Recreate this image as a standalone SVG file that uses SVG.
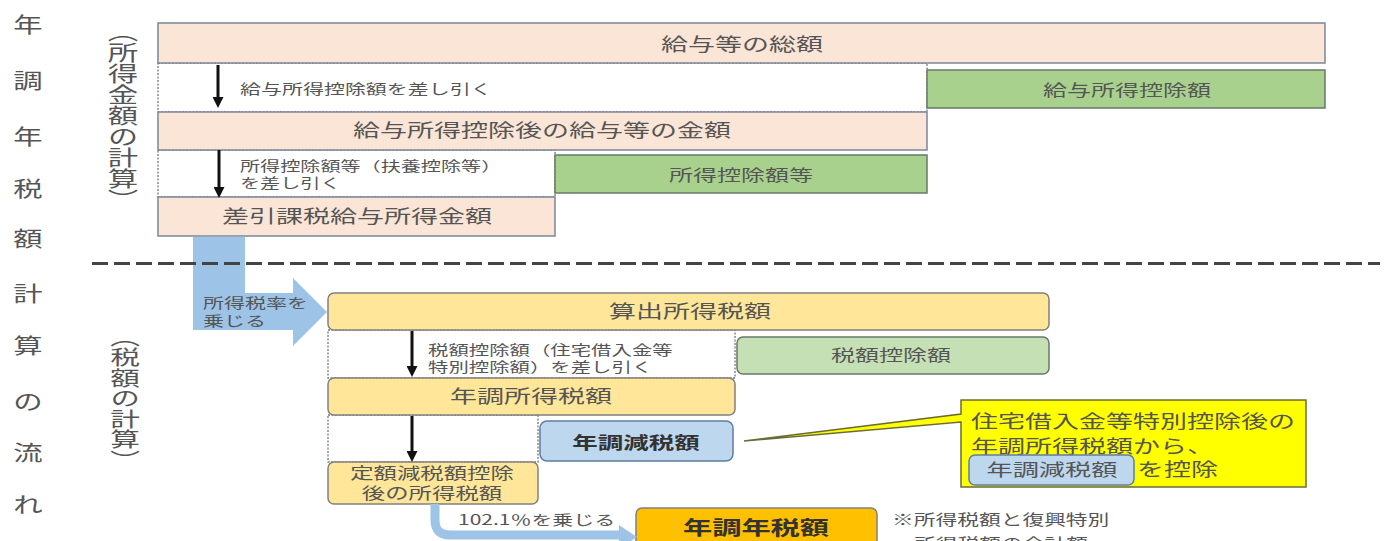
<svg xmlns="http://www.w3.org/2000/svg" width="1386" height="541" viewBox="0 0 1386 541">
<style>
text{font-family:"Noto Sans CJK JP","Noto Sans CJK SC",sans-serif;fill:#555;}
.t{font-size:18px;text-anchor:middle;}
.s{font-size:14px;}
.g{font-size:16px;text-anchor:middle;}
.b{font-weight:bold;fill:#333;}
.peach{fill:#fbe5d6;stroke:#7a8699;stroke-width:1.5;}
.green1{fill:#a9d18e;stroke:#66786a;stroke-width:1.5;}
.green2{fill:#c5e0b4;stroke:#66786a;stroke-width:1.5;}
.gold{fill:#ffe699;stroke:#808080;stroke-width:1.5;}
.blue{fill:#bdd7ee;stroke:#5f7ea3;stroke-width:1.5;}
.orange{fill:#ffc000;stroke:#808080;stroke-width:1.5;}
.band{fill:#fff;stroke:#777;stroke-width:1.3;stroke-dasharray:2 1.5;}
.arr{stroke:#111;stroke-width:3;fill:none;marker-end:url(#ah);}
.vt{font-size:21px;writing-mode:vertical-rl;text-orientation:mixed;}
.lc{font-size:21px;text-anchor:middle;}
</style>
<defs>
<marker id="ah" viewBox="0 0 12 11" refX="0" refY="5.5" markerWidth="12" markerHeight="11" markerUnits="userSpaceOnUse" orient="auto">
<path d="M0,0 L11,5.5 L0,11 z" fill="#111"/>
</marker>
</defs>

<g id="left-title">
<text class="lc" transform="translate(28 31.5) scale(1.4 1)">年</text>
<text class="lc" transform="translate(28 87.5) scale(1.4 1)">調</text>
<text class="lc" transform="translate(28 143.5) scale(1.4 1)">年</text>
<text class="lc" transform="translate(28 195.5) scale(1.4 1)">税</text>
<text class="lc" transform="translate(28 245.5) scale(1.4 1)">額</text>
<text class="lc" transform="translate(28 300.5) scale(1.4 1)">計</text>
<text class="lc" transform="translate(28 352.5) scale(1.4 1)">算</text>
<text class="lc" transform="translate(28 408.5) scale(1.4 1)">の</text>
<text class="lc" transform="translate(28 459.5) scale(1.4 1)">流</text>
<text class="lc" transform="translate(28 511.5) scale(1.4 1)">れ</text>
</g>

<g id="label-income">
<text class="vt" transform="translate(123 21) scale(1.45 1)" x="0" y="0">（所得金額の計算）</text>
</g>
<g id="label-tax">
<text class="vt" style="font-size:20.5px" transform="translate(125 326.5) scale(1.45 1)" x="0" y="0">（税額の計算）</text>
</g>

<g id="bands">
<rect class="band" x="158" y="63" width="769" height="49"/>
<rect class="band" x="158" y="150" width="397" height="47"/>
<rect class="band" x="328" y="330" width="407" height="48"/>
<rect class="band" x="328" y="415" width="210" height="47"/>
</g>

<g id="n-total">
<rect class="peach" x="158" y="23" width="1167" height="40"/>
<text class="t" transform="translate(742 51) scale(1.5 1)">給与等の総額</text>
</g>
<g id="n-kyuyo-kojo">
<rect class="green1" x="927" y="70" width="398" height="38"/>
<text class="g" transform="translate(1127 95.5) scale(1.5 1)">給与所得控除額</text>
</g>
<g id="n-after-kojo">
<rect class="peach" x="158" y="112" width="769" height="38"/>
<text class="t" transform="translate(542 137) scale(1.5 1)">給与所得控除後の給与等の金額</text>
</g>
<g id="n-shotoku-kojo">
<rect class="green1" x="555" y="155" width="372" height="38"/>
<text class="g" transform="translate(741 180.5) scale(1.5 1)">所得控除額等</text>
</g>
<g id="n-sashihiki">
<rect class="peach" x="158" y="197" width="397" height="39"/>
<text class="t" transform="translate(357 223) scale(1.5 1)">差引課税給与所得金額</text>
</g>

<g id="n-sanshutsu">
<rect class="gold" x="328" y="293" width="721" height="37" rx="6"/>
<text class="t" transform="translate(690 318) scale(1.5 1)">算出所得税額</text>
</g>
<g id="n-zeigaku-kojo">
<rect class="green2" x="737" y="337" width="312" height="37" rx="6"/>
<text class="g" transform="translate(891 361) scale(1.5 1)">税額控除額</text>
</g>
<g id="n-nencho-shotoku">
<rect class="gold" x="328" y="378" width="407" height="37" rx="6"/>
<text class="t" transform="translate(531 403) scale(1.5 1)">年調所得税額</text>
</g>
<g id="n-genzei">
<rect class="blue" x="540" y="421" width="193" height="40" rx="7"/>
<text class="t b" style="font-size:17px" transform="translate(636 449) scale(1.5 1)">年調減税額</text>
</g>
<g id="n-teigaku">
<rect class="gold" x="328" y="462" width="210" height="42" rx="6"/>
<text class="g" style="font-size:15.6px" transform="translate(432 479) scale(1.5 1)">定額減税額控除</text>
<text class="g" style="font-size:15.6px" transform="translate(432 499) scale(1.5 1)">後の所得税額</text>
</g>
<g id="n-nenzei">
<rect class="orange" x="636" y="508" width="241" height="46" rx="6"/>
<text class="t b" style="font-size:19.5px" transform="translate(756 535) scale(1.5 1)">年調年税額</text>
</g>

<g id="n-callout">
<path d="M961,400 H1306 V487 H961 V422 L744,441 L961,414 Z" fill="#ffff00" stroke="#6b6b3a" stroke-width="1.5"/>
<text style="font-size:18px" transform="translate(971 427.5) scale(1.5 1)">住宅借入金等特別控除後の</text>
<text style="font-size:18px" transform="translate(971 453) scale(1.5 1)">年調所得税額から、</text>
<rect class="blue" x="969" y="455" width="165" height="30" rx="6"/>
<text style="font-size:17.5px;text-anchor:middle" transform="translate(1052 476) scale(1.5 1)">年調減税額</text>
<text style="font-size:18px" transform="translate(1137 476) scale(1.5 1)">を控除</text>
</g>

<g id="note">
<text style="font-size:14.5px" transform="translate(892 525) scale(1.5 1)">※所得税額と復興特別</text>
<text style="font-size:14.5px" transform="translate(914 549) scale(1.5 1)">所得税額の合計額</text>
</g>

<g id="connectors">
<path d="M193,237 H245 V293 H293 V278 L327,312 L293,346 V330 H193 Z" fill="#9dc3e6"/>
<text class="s" transform="translate(203 308) scale(1.5 1)">所得税率を</text>
<text class="s" transform="translate(203 326) scale(1.5 1)">乗じる</text>
<line x1="92" y1="263.5" x2="1380" y2="263.5" stroke="#444" stroke-width="3" stroke-dasharray="16 6"/>
<path class="arr" d="M218,65 V97"/>
<text class="s" transform="translate(240 94) scale(1.5 1)">給与所得控除額を差し引く</text>
<path class="arr" d="M219,150 V187"/>
<text class="s" style="font-size:13.4px" transform="translate(240 170.5) scale(1.5 1)">所得控除額等（扶養控除等）</text>
<text class="s" style="font-size:13.4px" transform="translate(240 187.5) scale(1.5 1)">を差し引く</text>
<path class="arr" d="M412,331 V366"/>
<text class="s" style="font-size:13.6px" transform="translate(428 355) scale(1.5 1)">税額控除額（住宅借入金等</text>
<text class="s" style="font-size:13.6px" transform="translate(428 371.5) scale(1.5 1)">特別控除額）を差し引く</text>
<path class="arr" d="M412,416 V451"/>
<path d="M435,504 V520 Q435,535 450,535 H621" fill="none" stroke="#9dc3e6" stroke-width="9"/>
<path d="M619,525 L637,537 L619,549 Z" fill="#9dc3e6"/>
<text class="s" transform="translate(458 524.5) scale(1.5 1)">102.1％を乗じる</text>
</g>
</svg>
